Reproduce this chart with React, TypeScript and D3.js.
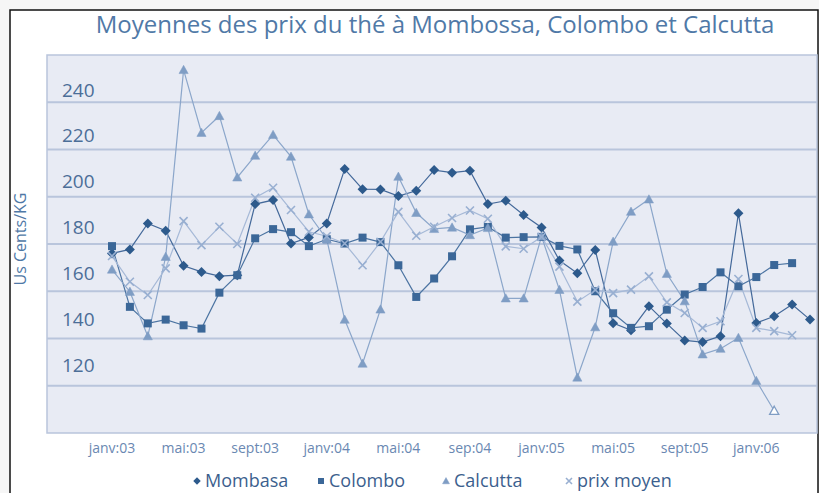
import React from 'react'
import * as d3 from 'd3'

// monthly averages, janv:03 .. avr:06 (US cents / kg)
const mombasa = [
  176, 177.7, 188.7, 185.6, 170.8, 168.2, 166.4, 166.8, 196.9, 198.6,
  180.2, 182.8, 188.7, 211.7, 203.2, 203.1, 200.3, 202.5, 211.3, 210.2,
  211, 196.9, 198.3, 192.3, 187, 173, 167.6, 177.5, 146.5, 143.5,
  153.7, 146.3, 139.2, 138.5, 141, 193, 146.6, 149.4, 154.4, 148,
]
const colombo = [
  179.1, 153.4, 146.4, 148, 145.6, 144.2, 159.4, 166.8, 182.4, 186.3,
  185, 179.1, 182, 180.2, 182.7, 180.8, 171, 157.6, 165.4, 174.8,
  186.2, 187.2, 182.7, 182.9, 183, 179.2, 177.7, 160, 150.7, 144.5,
  145.2, 152.2, 158.6, 161.8, 168, 162.1, 166, 171.1, 171.9, null,
]
const calcutta = [
  169.2, 159.8, 141, 174.6, 253.7, 227.1, 234.2, 208.2, 217.4, 226.2,
  217, 192.6, 182, 148, 129.4, 152.3, 208.5, 193.2, 186.4, 187,
  183.8, 186.8, 157, 157, 183.2, 160.6, 123.5, 144.8, 181, 193.7,
  198.9, 167.4, 155.8, 133.3, 135.7, 140.3, 122.1, 109.4, null, null,
]
const prixMoyen = [
  174.9, 164, 158.4, 169.7, 189.7, 179.5, 187.3, 180, 199.6, 203.8,
  194.4, 185.2, 183.3, 180.2, 171, 180.9, 193.6, 183.5, 187.3, 191,
  194.2, 190.7, 179, 178, 183, 170.4, 155.6, 160.6, 159.2, 160.7,
  166.3, 155.3, 150.8, 144.5, 147.3, 165.2, 144.5, 143.1, 141.4, null,
]

const tickLabels = ['janv:03', 'mai:03', 'sept:03', 'janv:04', 'mai:04', 'sep:04', 'janv:05', 'mai:05', 'sept:05', 'janv:06']
const yTicks = [120, 140, 160, 180, 200, 220, 240]
const seriesNames = ['Mombasa', 'Colombo', 'Calcutta', 'prix moyen']

const font = "'Open Sans', 'DejaVu Sans', sans-serif"

const x = d3.scalePoint<number>().domain(d3.range(mombasa.length)).range([112, 810])
const y = d3.scaleLinear().domain([100, 260]).range([433, 55])
// the tick labels sit a little above their gridlines in the original
const yLab = d3.scaleLinear().domain([120, 240]).range([365, 90])

const series = [
  { name: seriesNames[0], values: mombasa, line: '#44699a', fill: '#2d5a8c', shape: 'diamond' },
  { name: seriesNames[1], values: colombo, line: '#4c74a2', fill: '#3b6798', shape: 'square' },
  { name: seriesNames[2], values: calcutta, line: '#8ba6ca', fill: '#7f9dc4', shape: 'triangle' },
  { name: seriesNames[3], values: prixMoyen, line: '#a6b9d7', fill: '#98afd1', shape: 'cross' },
]

function Marker({ shape, cx, cy, fill, open, s = 1 }: any) {
  if (shape === 'diamond') {
    const r = 5 * s
    return <path d={`M${cx},${cy - r}L${cx + r},${cy}L${cx},${cy + r}L${cx - r},${cy}Z`} fill={fill} />
  }
  if (shape === 'square') {
    const r = 4 * s
    return <rect x={cx - r} y={cy - r} width={2 * r} height={2 * r} fill={fill} />
  }
  if (shape === 'triangle') {
    const r = 4.6 * s
    return <path d={`M${cx},${cy - r}L${cx + r},${cy + r * 0.8}L${cx - r},${cy + r * 0.8}Z`}
      fill={open ? '#fff' : fill} stroke={fill} strokeWidth={open ? 1.3 : 0.5} />
  }
  const r = 4 * s
  return <path d={`M${cx - r},${cy - r}L${cx + r},${cy + r}M${cx - r},${cy + r}L${cx + r},${cy - r}`}
    stroke={fill} strokeWidth={1.6} fill="none" />
}

export default function App() {
  const line = d3.line<number | null>()
    .defined(d => d != null)
    .x((d, i) => x(i) as number)
    .y(d => y(d as number))

  const legendX = [197, 321, 446, 569]

  return (
    <svg width={819} height={493} style={{ position: 'absolute', left: 0, top: 0 }} fontFamily={font}>
      <rect width={819} height={493} fill="#f6f6f6" />
      <rect x={10} y={10} width={808} height={493} fill="#fff" stroke="#111" strokeWidth={1.5} />

      <text x={435} y={33} textAnchor="middle" fontSize={24} fill="#5079a7">
        Moyennes des prix du thé à Mombossa, Colombo et Calcutta
      </text>

      <g className="plot">
        <rect x={47} y={y(260)} width={770} height={y(100) - y(260)} fill="#e8ebf4" stroke="#b9c5dc" strokeWidth={1.5} />
        {yTicks.map(v => (
          <line key={v} x1={47} x2={817} y1={y(v)} y2={y(v)} stroke="#b9c5dc" strokeWidth={2} />
        ))}
        {yTicks.map(v => (
          <text key={'l' + v} x={62} y={yLab(v)} dy="0.35em" fontSize={19} fill="#4c6e98">{v}</text>
        ))}
      </g>

      <text transform={`translate(26,239) rotate(-90)`} textAnchor="middle" fontSize={16} fill="#4f78a6">Us Cents/KG</text>

      {tickLabels.map((t, i) => (
        <text key={t} x={x(i * 4) as number} y={448} dy="0.35em" textAnchor="middle" fontSize={14} fill="#6a88b2">{t}</text>
      ))}

      {series.map(s => (
        <path key={s.name} d={line(s.values) || ''} fill="none" stroke={s.line} strokeWidth={1.2} />
      ))}
      {series.map(s => (
        <g key={'m' + s.name}>
          {s.values.map((v, i) => v == null ? null : (
            <Marker key={i} shape={s.shape} cx={x(i)} cy={y(v)} fill={s.fill}
              open={s.shape === 'triangle' && i === 37} />
          ))}
        </g>
      ))}

      <g className="legend">
        {series.map((s, i) => (
          <g key={s.name}>
            <Marker shape={s.shape} cx={legendX[i]} cy={481} fill={s.fill} s={0.75} />
            <text x={legendX[i] + 8} y={481} dy="0.35em" fontSize={18} fill="#3c5f8e">{s.name}</text>
          </g>
        ))}
      </g>
    </svg>
  )
}
